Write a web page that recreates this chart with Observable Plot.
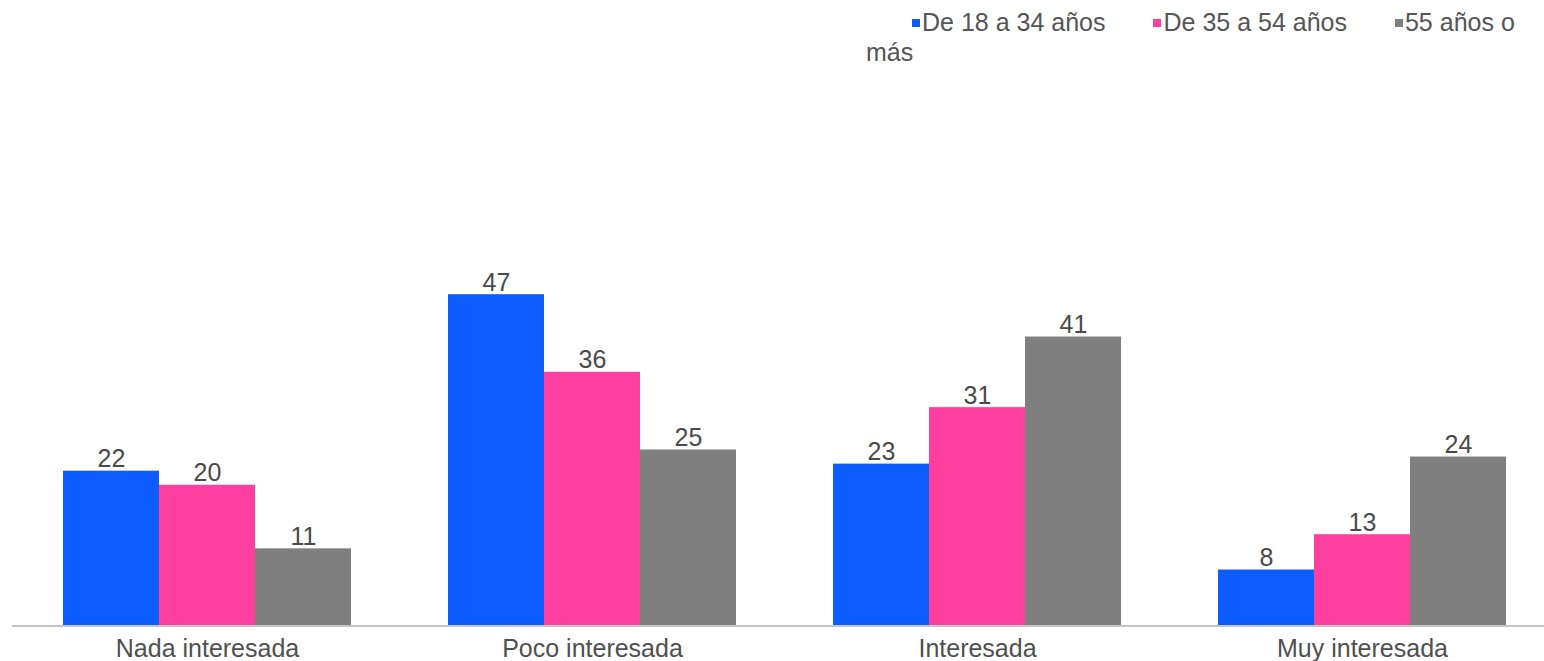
<!DOCTYPE html>
<html>
<head>
<meta charset="utf-8">
<script src="https://cdn.jsdelivr.net/npm/d3@7"></script>
<script src="https://cdn.jsdelivr.net/npm/@observablehq/plot@0.6"></script>
<style>
  html, body { margin: 0; padding: 0; background: #fff; }
  body { width: 1544px; height: 661px; overflow: hidden; font-family: "Liberation Sans", Arial, sans-serif; }
  #legend { position: relative; height: 67px; }
  #legend .box { position: absolute; left: 866px; top: 7px; width: 678px; font-size: 25px; line-height: 30px; color: #555; text-indent: 46px; white-space: nowrap; }
  #legend .item { margin-right: 48px; }
  #legend .sw { display: inline-block; width: 8px; height: 8px; margin-right: 2px; vertical-align: 4px; text-indent: 0; }
</style>
</head>
<body>
<div id="legend"></div>
<div id="chart"></div>
<script>
const categories = ["Nada interesada", "Poco interesada", "Interesada", "Muy interesada"];
const seriesNames = ["De 18 a 34 años", "De 35 a 54 años", "55 años o más"];
const values18to34 = [22, 47, 23, 8];
const values35to54 = [20, 36, 31, 13];
const values55plus = [11, 25, 41, 24];
const seriesColors = ["#0d5cff", "#ff3f9f", "#7f7f7f"];

const seriesValues = [values18to34, values35to54, values55plus];
const data = [];
categories.forEach((c, i) => {
  seriesNames.forEach((s, j) => {
    data.push({category: c, series: s, value: seriesValues[j][i]});
  });
});

// Legend (HTML, above the SVG)
const box = document.createElement("div");
box.className = "box";
box.innerHTML =
  `<span class="item"><span class="sw" style="background:${seriesColors[0]}"></span>${seriesNames[0]}</span>` +
  `<span class="item"><span class="sw" style="background:${seriesColors[1]}"></span>${seriesNames[1]}</span>` +
  `<span><span class="sw" style="background:${seriesColors[2]}"></span>55 años o<br>más</span>`;
document.getElementById("legend").appendChild(box);

const plot = Plot.plot({
  width: 1544,
  height: 594,
  marginTop: 206,
  marginBottom: 35,
  marginLeft: 60,
  marginRight: 35,
  fx: {domain: categories, paddingInner: 0.246, paddingOuter: 0, axis: "bottom", label: null, tickSize: 0, tickPadding: 13},
  x: {domain: seriesNames, padding: 0, axis: null},
  y: {domain: [0, 50], axis: null},
  color: {domain: seriesNames, range: seriesColors},
  style: {fontFamily: "'Liberation Sans', Arial, sans-serif", fontSize: "25px", color: "#505050", background: "white", overflow: "visible"},
  marks: [
    Plot.barY(data, {fx: "category", x: "series", y: "value", fill: "series"}),
    Plot.text(data, {fx: "category", x: "series", y: "value", text: d => String(d.value), lineAnchor: "bottom", dy: -4, fontSize: 25, fill: "#4a4a4a"})
  ]
});

// Baseline (x axis line) drawn at y = 0 of the plot's y scale
const y0 = plot.scale("y").apply(0);
d3.select(plot).append("line")
  .attr("x1", 12).attr("x2", 1544)
  .attr("y1", y0).attr("y2", y0)
  .attr("stroke", "#c4c4c4").attr("stroke-width", 2);

document.getElementById("chart").appendChild(plot);
</script>
</body>
</html>
